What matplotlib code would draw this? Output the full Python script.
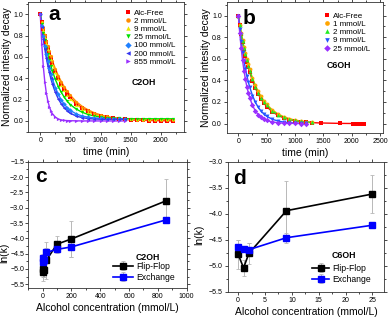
import matplotlib
matplotlib.use('Agg')
import matplotlib.pyplot as plt
from matplotlib.ticker import MultipleLocator

plt.rcParams['font.family'] = ['Liberation Sans', 'DejaVu Sans']

# panel a: C2OH decays
t_a = [0, 25, 50, 75, 100, 125, 150, 175, 200, 250, 300, 350, 400, 450, 500, 600, 700, 800,
       900, 1000, 1100, 1200, 1300, 1400, 1500, 1600, 1700, 1800, 1900, 2000, 2100, 2200]
a_free = [1.0, 0.927, 0.859, 0.797, 0.739, 0.685, 0.635, 0.588, 0.546, 0.469, 0.403, 0.346, 0.298, 0.256,
          0.220, 0.162, 0.120, 0.089, 0.065, 0.048, 0.036, 0.026, 0.019, 0.014, 0.010, 0.008, 0.006,
          0.004, 0.003, 0.002, 0.002, 0.001]
a_2 = [1.0, 0.931, 0.867, 0.807, 0.751, 0.700, 0.651, 0.607, 0.565, 0.490, 0.424, 0.368, 0.319, 0.276,
       0.240, 0.180, 0.135, 0.102, 0.076, 0.057, 0.043, 0.032, 0.024, 0.018, 0.014, 0.012, 0.011,
       0.010, 0.010, 0.010, 0.010, 0.010]
a_9 = [1.0, 0.925, 0.855, 0.791, 0.732, 0.677, 0.626, 0.579, 0.535, 0.458, 0.392, 0.335, 0.287, 0.245,
       0.210, 0.153, 0.112, 0.082, 0.060, 0.044, 0.032, 0.024, 0.019, 0.016, 0.015, 0.015, 0.015,
       0.015, 0.015, 0.015, 0.015, 0.015]
a_25 = [1.0, 0.910, 0.828, 0.754, 0.686, 0.624, 0.568, 0.517, 0.470, 0.389, 0.322, 0.267, 0.221, 0.183,
        0.152, 0.110, 0.080, 0.060, 0.046, 0.036, 0.030, 0.026, 0.024, 0.022, 0.021, 0.020, 0.020,
        0.020, 0.020, 0.020, 0.020, 0.020]
a_100 = [1.0, 0.890, 0.792, 0.705, 0.628, 0.559, 0.498, 0.443, 0.394, 0.313, 0.248, 0.196, 0.156, 0.123,
         0.098, 0.065, 0.045, 0.035, 0.028, 0.025, 0.022, 0.021, 0.020, 0.020]
a_200 = [1.0, 0.877, 0.769, 0.674, 0.591, 0.518, 0.454, 0.398, 0.349, 0.268, 0.206, 0.158, 0.122, 0.094,
         0.072, 0.045, 0.030, 0.022, 0.018, 0.016, 0.015, 0.015, 0.015, 0.015]
a_855 = [1.0, 0.717, 0.513, 0.368, 0.264, 0.189, 0.135, 0.097, 0.069, 0.036, 0.018, 0.009, 0.005, 0.003,
         0.002, 0.001, 0.0, 0.0, 0.0, 0.0, 0.0, 0.0, 0.0, 0.0]

# panel b: C6OH decays
t_b = [0, 25, 50, 75, 100, 125, 150, 175, 200, 250, 300, 350, 400, 450, 500, 600, 700, 800,
       900, 1000, 1100, 1200, 1300]
t_b_tail = [1450, 1800, 2020, 2100, 2150, 2220]
b_free = [1.0, 0.912, 0.831, 0.757, 0.690, 0.629, 0.574, 0.523, 0.477, 0.396, 0.329, 0.274, 0.227, 0.189,
          0.157, 0.108, 0.075, 0.052, 0.036, 0.025, 0.017, 0.012, 0.008]
b_free_tail = [0.005, 0.001, 0.0, 0.0, 0.0, 0.0]
b_1 = [1.0, 0.917, 0.842, 0.772, 0.708, 0.650, 0.596, 0.547, 0.502, 0.422, 0.355, 0.299, 0.252, 0.212,
       0.178, 0.126, 0.089, 0.063, 0.045, 0.032, 0.023, 0.016, 0.011]
b_2 = [1.0, 0.915, 0.836, 0.765, 0.700, 0.640, 0.585, 0.535, 0.490, 0.410, 0.343, 0.287, 0.240, 0.200,
       0.168, 0.117, 0.082, 0.057, 0.040, 0.028, 0.020, 0.014, 0.010]
b_9 = [1.0, 0.874, 0.763, 0.667, 0.582, 0.509, 0.444, 0.388, 0.339, 0.259, 0.198, 0.151, 0.115, 0.088,
       0.067, 0.039, 0.023, 0.013, 0.008, 0.004, 0.003, 0.002]
b_25 = [1.0, 0.836, 0.700, 0.585, 0.490, 0.410, 0.343, 0.287, 0.240, 0.168, 0.117, 0.082, 0.057, 0.040,
        0.028, 0.014, 0.007, 0.003, 0.002, 0.001, 0.0, 0.0]

# panel c / d: ln(k)
conc_c = [0, 2, 9, 25, 100, 200, 855]
ff_c = [-5.10, -5.00, -5.02, -4.72, -4.19, -4.02, -2.78]
ff_c_err = [0.30, 0.25, 0.25, 0.60, 0.28, 0.60, 0.72]
ex_c = [-4.65, -4.78, -4.70, -4.46, -4.36, -4.28, -3.40]
ex_c_err = [0.15, 0.12, 0.12, 0.15, 0.10, 0.32, 0.10]

conc_d = [0, 1, 2, 9, 25]
ff_d = [-4.78, -5.04, -4.76, -3.94, -3.62]
ff_d_err = [0.28, 0.15, 0.20, 0.58, 0.36]
ex_d = [-4.63, -4.68, -4.69, -4.46, -4.22]
ex_d_err = [0.12, 0.05, 0.12, 0.10, 0.05]

fig = plt.figure(figsize=(3.92, 3.21), dpi=100)
ax_a = fig.add_axes([0.072, 0.588, 0.398, 0.406])
ax_b = fig.add_axes([0.579, 0.585, 0.398, 0.41])
ax_c = fig.add_axes([0.072, 0.102, 0.404, 0.394])
ax_d = fig.add_axes([0.582, 0.091, 0.398, 0.405])

tick_fs = 5
lab_fs = 7.5


def style(ax):
    ax.tick_params(which='both', direction='out', top=True, right=True, labelsize=tick_fs,
                   width=0.5, pad=1.5)
    ax.tick_params(which='major', length=2.2)
    ax.tick_params(which='minor', length=1.2)
    for s in ax.spines.values():
        s.set_linewidth(0.6)
        s.set_color('#333333')


series_a = [
    (t_a, a_free, 's', '#ff0000', 'Alc-Free'),
    (t_a, a_2, 'o', '#ff8c00', '2 mmol/L'),
    (t_a, a_9, '^', '#e8e800', '9 mmol/L'),
    (t_a, a_25, 'v', '#00e000', '25 mmol/L'),
    (t_a[:24], a_100, 'D', '#1e80ff', '100 mmol/L'),
    (t_a[:24], a_200, '<', '#3535f0', '200 mmol/L'),
    (t_a[:24], a_855, '>', '#9a30ff', '855 mmol/L'),
]
for x, y, m, c, lab in series_a:
    ax_a.plot(x, y, '-', color=c, lw=1.0, zorder=2)
    ax_a.plot(x, y, m, color=c, ms=2.3, mew=0, label=lab, zorder=3)
ax_a.set_xlim(-200, 2390)
ax_a.set_ylim(-0.106, 1.115)
ax_a.xaxis.set_major_locator(MultipleLocator(500))
ax_a.xaxis.set_minor_locator(MultipleLocator(250))
ax_a.yaxis.set_major_locator(MultipleLocator(0.2))
ax_a.yaxis.set_minor_locator(MultipleLocator(0.1))
style(ax_a)
ax_a.set_xlabel('time (min)', fontsize=lab_fs, labelpad=2)
ax_a.set_ylabel('Normalized intesity decay', fontsize=lab_fs, labelpad=1)
ax_a.legend(loc='upper left', bbox_to_anchor=(0.316, 0.972), bbox_transform=fig.transFigure,
            frameon=False, fontsize=5.8, handlelength=1.0, handletextpad=0.3,
            labelspacing=0.07, borderpad=0, borderaxespad=0, markerscale=1.4)
fig.text(144 / 392, 1 - 83 / 321, 'C2OH', fontsize=6.3, fontweight='bold', ha='center', va='center')
fig.text(48 / 392, 1 - 15 / 321, 'a', fontsize=15, fontweight='bold', ha='left', va='center')

series_b = [
    (t_b + t_b_tail, b_free + b_free_tail, 's', '#ff0000', 'Alc-Free'),
    (t_b, b_1, 'o', '#ffa500', '1 mmol/L'),
    (t_b, b_2, '^', '#22ee22', '2 mmol/L'),
    (t_b[:22], b_9, 'v', '#2255ff', '9 mmol/L'),
    (t_b[:22], b_25, 'D', '#9a30ff', '25 mmol/L'),
]
for x, y, m, c, lab in series_b:
    ax_b.plot(x, y, '-', color=c, lw=1.0, zorder=2)
    ax_b.plot(x, y, m, color=c, ms=2.8, mew=0, label=lab, zorder=3)
ax_b.set_xlim(-200, 2550)
ax_b.set_ylim(-0.09, 1.13)
ax_b.xaxis.set_major_locator(MultipleLocator(500))
ax_b.xaxis.set_minor_locator(MultipleLocator(250))
ax_b.yaxis.set_major_locator(MultipleLocator(0.2))
ax_b.yaxis.set_minor_locator(MultipleLocator(0.1))
style(ax_b)
ax_b.set_xlabel('time (min)', fontsize=lab_fs, labelpad=2)
ax_b.set_ylabel('Normalized intesity decay', fontsize=lab_fs, labelpad=1)
ax_b.legend(loc='upper left', bbox_to_anchor=(0.824, 0.963), bbox_transform=fig.transFigure,
            frameon=False, fontsize=5.8, handlelength=1.0, handletextpad=0.3,
            labelspacing=0.08, borderpad=0, borderaxespad=0, markerscale=1.2)
fig.text(339 / 392, 1 - 65 / 321, 'C6OH', fontsize=6.3, fontweight='bold', ha='center', va='center')
fig.text(243 / 392, 1 - 19 / 321, 'b', fontsize=15, fontweight='bold', ha='left', va='center')

err_kw = dict(ecolor='#b8b8b8', elinewidth=0.7, capsize=1.5, capthick=0.6)
ax_c.errorbar(conc_c, ff_c, yerr=ff_c_err, color='black', marker='s', ms=3.8, lw=1.2,
              label='Flip-Flop', **err_kw)
ax_c.errorbar(conc_c, ex_c, yerr=ex_c_err, color='#0000ff', marker='s', ms=3.8, lw=1.2,
              label='Exchange', **err_kw)
ax_c.set_xlim(-100, 1000)
ax_c.set_ylim(-5.63, -1.5)
ax_c.xaxis.set_major_locator(MultipleLocator(200))
ax_c.xaxis.set_minor_locator(MultipleLocator(100))
ax_c.yaxis.set_major_locator(MultipleLocator(0.5))
ax_c.yaxis.set_minor_locator(MultipleLocator(0.25))
style(ax_c)
ax_c.tick_params(axis='y', pad=0.8)
ax_c.set_xlabel('Alcohol concentration (mmol/L)', fontsize=lab_fs, labelpad=2)
ax_c.set_ylabel('ln(k)', fontsize=lab_fs)
ax_c.yaxis.set_label_coords(-0.118, 0.28)
ax_c.legend(loc='upper left', bbox_to_anchor=(0.288, 0.185), bbox_transform=fig.transFigure,
            frameon=False, fontsize=6.2, handlelength=2.3, handletextpad=0.4,
            labelspacing=0.25, borderpad=0, borderaxespad=0)
fig.text(148 / 392, 1 - 257 / 321, 'C2OH', fontsize=6.3, fontweight='bold', ha='center', va='center')
fig.text(35 / 392, 1 - 177 / 321, 'c', fontsize=15, fontweight='bold', ha='left', va='center')

ax_d.errorbar(conc_d, ff_d, yerr=ff_d_err, color='black', marker='s', ms=3.8, lw=1.2,
              label='Flip-Flop', **err_kw)
ax_d.errorbar(conc_d, ex_d, yerr=ex_d_err, color='#0000ff', marker='s', ms=3.8, lw=1.2,
              label='Exchange', **err_kw)
ax_d.set_xlim(-1.87, 27.2)
ax_d.set_ylim(-5.5, -3.0)
ax_d.xaxis.set_major_locator(MultipleLocator(5))
ax_d.xaxis.set_minor_locator(MultipleLocator(2.5))
ax_d.yaxis.set_major_locator(MultipleLocator(0.5))
ax_d.yaxis.set_minor_locator(MultipleLocator(0.25))
style(ax_d)
ax_d.set_xlabel('Alcohol concentration (mmol/L)', fontsize=lab_fs, labelpad=2)
ax_d.set_ylabel('ln(k)', fontsize=lab_fs)
ax_d.yaxis.set_label_coords(-0.155, 0.44)
ax_d.legend(loc='upper left', bbox_to_anchor=(0.796, 0.179), bbox_transform=fig.transFigure,
            frameon=False, fontsize=6.2, handlelength=2.0, handletextpad=0.4,
            labelspacing=0.25, borderpad=0, borderaxespad=0)
fig.text(344 / 392, 1 - 256 / 321, 'C6OH', fontsize=6.3, fontweight='bold', ha='center', va='center')
fig.text(233 / 392, 1 - 179 / 321, 'd', fontsize=15, fontweight='bold', ha='left', va='center')

fig.savefig('out.png', dpi=100)
